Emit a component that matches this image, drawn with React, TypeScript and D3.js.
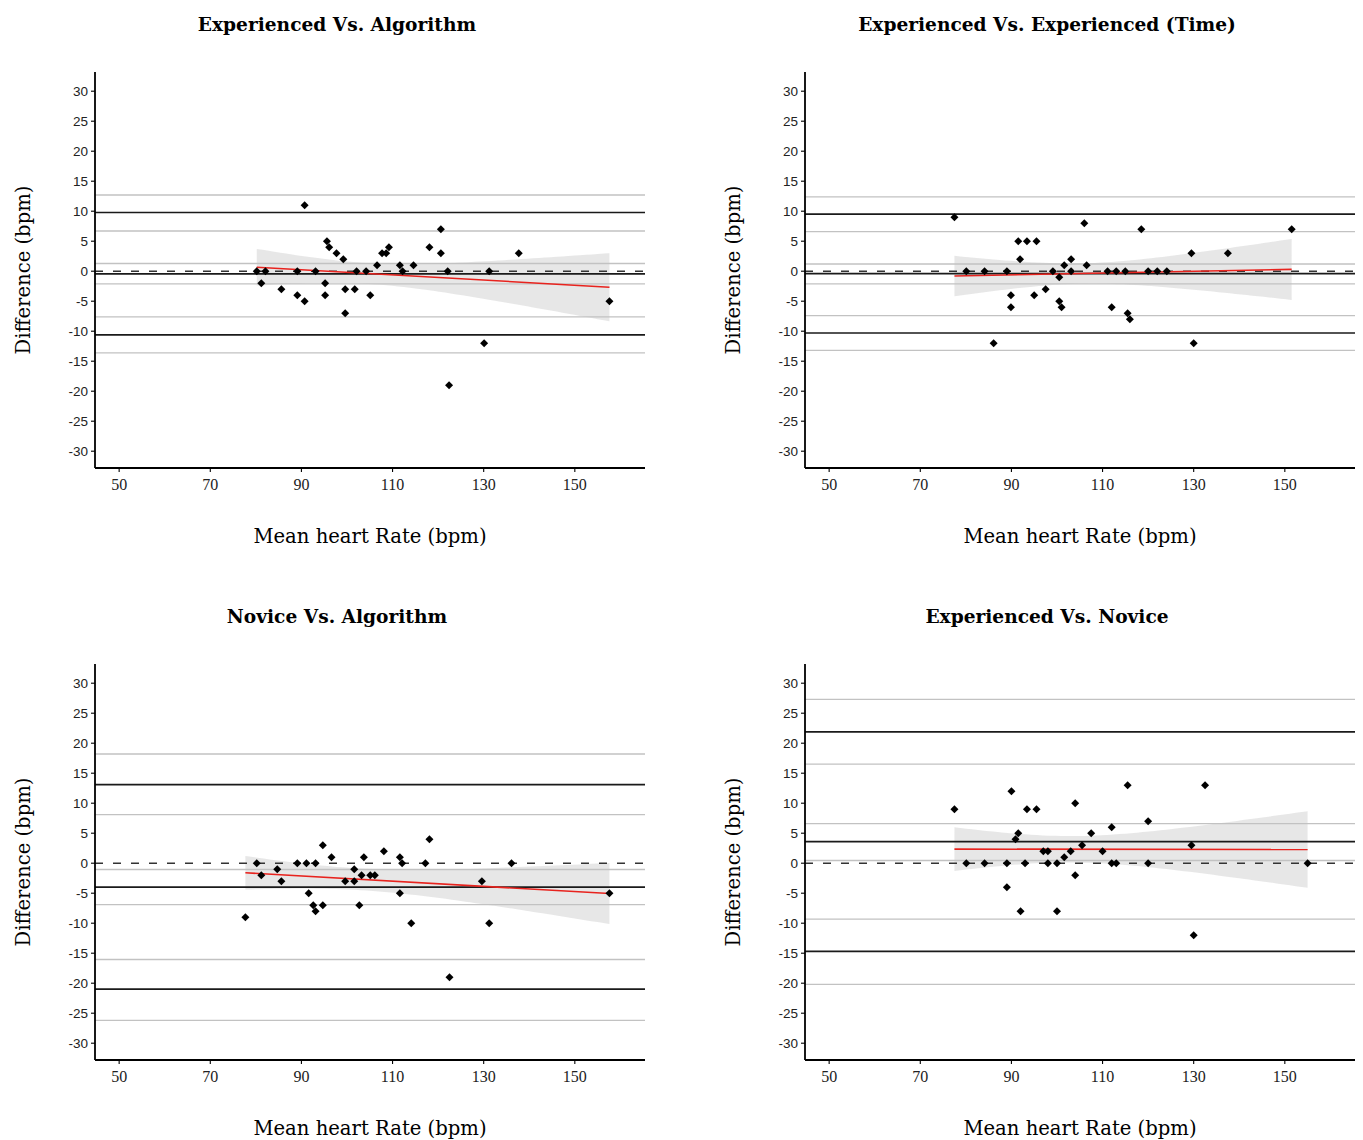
import * as d3 from "d3";
import { useEffect } from "react";

// ---- data ----
const panelTitles = [
  "Experienced Vs. Algorithm",
  "Experienced Vs. Experienced (Time)",
  "Novice Vs. Algorithm",
  "Experienced Vs. Novice",
];

const xTicks = [50, 70, 90, 110, 130, 150];
const yTicks = [-30, -25, -20, -15, -10, -5, 0, 5, 10, 15, 20, 25, 30];

// Experienced vs Algorithm
const eaMean = [80.2, 81.2, 82.1, 85.6, 89.1, 89.1, 90.7, 90.7, 93.1, 95.6, 96.1, 97.7, 99.2, 95.2, 95.2, 99.6, 99.6, 101.7, 102.1, 104.2, 105.1, 106.6, 107.7, 108.6, 109.2, 111.6, 112.2, 114.6, 118.1, 120.6, 120.6, 122.1, 122.4, 130.1, 131.2, 137.7, 157.6];
const eaDiff = [0, -2, 0, -3, 0, -4, -5, 11, 0, 5, 4, 3, 2, -2, -4, -3, -7, -3, 0, 0, -4, 1, 3, 3, 4, 1, 0, 1, 4, 7, 3, 0, -19, -12, 0, 3, -5];

// Experienced vs Experienced (time)
const eeMean = [77.5, 80.1, 84.1, 86.1, 89.0, 89.9, 89.9, 91.5, 91.9, 93.4, 95.5, 95.0, 97.5, 99.1, 100.5, 100.5, 101.0, 101.6, 103.1, 103.1, 106.0, 106.5, 111.1, 112.0, 113.0, 115.0, 115.5, 116.0, 118.5, 120.0, 122.0, 124.1, 129.5, 130.0, 137.5, 151.5];
const eeDiff = [9, 0, 0, -12, 0, -4, -6, 5, 2, 5, 5, -4, -3, 0, -1, -5, -6, 1, 2, 0, 8, 1, 0, -6, 0, 0, -7, -8, 7, 0, 0, 0, 3, -12, 3, 7];

// Novice vs Algorithm
const naMean = [77.7, 80.2, 81.2, 84.7, 85.6, 89.1, 91.1, 91.6, 92.6, 93.1, 93.1, 94.7, 94.7, 96.6, 99.6, 101.6, 101.6, 102.7, 103.2, 103.7, 105.1, 106.1, 108.1, 111.6, 112.1, 111.6, 114.1, 117.2, 118.1, 122.5, 129.6, 131.2, 136.1, 157.6];
const naDiff = [-9, 0, -2, -1, -3, 0, 0, -5, -7, -8, 0, 3, -7, 1, -3, -1, -3, -7, -2, 1, -2, -2, 2, 1, 0, -5, -10, 0, 4, -19, -3, -10, 0, -5];

// Experienced vs Novice
const enMean = [77.5, 80.1, 84.1, 89.0, 89.0, 90.0, 90.9, 91.5, 92.0, 93.0, 93.4, 95.5, 97.0, 98.0, 98.0, 100.0, 100.0, 101.6, 103.0, 104.0, 104.0, 105.5, 107.5, 110.0, 112.0, 112.0, 113.0, 115.5, 120.0, 120.0, 129.5, 130.0, 132.5, 155.0];
const enDiff = [9, 0, 0, 0, -4, 12, 4, 5, -8, 0, 9, 9, 2, 2, 0, 0, -8, 1, 2, 10, -2, 3, 5, 2, 6, 0, 0, 13, 7, 0, 3, -12, 13, 0];

// Bland-Altman lines, per panel
const bias = [-0.45, -0.4, -4.0, 3.6];
const biasCI = [[-2.1, 1.28], [-2.1, 1.2], [-6.9, -1.05], [0.45, 6.6]];
const upperLoA = [9.78, 9.5, 13.1, 21.9];
const upperCI = [[6.7, 12.7], [6.6, 12.4], [8.1, 18.2], [16.5, 27.3]];
const lowerLoA = [-10.6, -10.3, -21.0, -14.7];
const lowerCI = [[-13.6, -7.6], [-13.2, -7.4], [-26.2, -16.05], [-20.2, -9.33]];

// linear fit: x range, fitted y at ends, CI half width [start, narrowest, end]
const fitX = [[80.2, 157.6], [77.5, 151.5], [77.7, 157.6], [77.5, 155.0]];
const fitY = [[0.67, -2.67], [-0.8, 0.3], [-1.6, -5.05], [2.35, 2.28]];
const fitHalf = [[3.05, 1.75, 5.68], [3.36, 1.7, 5.08], [2.8, 1.8, 5.1], [3.64, 2.2, 6.39]];

const means = [eaMean, eeMean, naMean, enMean];
const diffs = [eaDiff, eeDiff, naDiff, enDiff];

// ---- layout ----
const left = 95, right = 645, top = 72, bottom = 468;
const offsets = [[0, 0], [710, 0], [0, 592], [710, 592]];

const serif = "'DejaVu Serif', serif";

const Panel = ({ i }) => {
  const x = d3.scaleLinear().domain([44.7, 165.4]).range([left, right]);
  const y = d3.scaleLinear().domain([-32.8, 33.2]).range([bottom, top]);

  const [x0, x1] = fitX[i];
  const [y0, y1] = fitY[i];
  const [h0, hm, h1] = fitHalf[i];
  const r = Math.sqrt((h0 * h0 - hm * hm) / (h1 * h1 - hm * hm));
  const xc = (x0 + r * x1) / (1 + r);
  const k = (h0 * h0 - hm * hm) / ((xc - x0) * (xc - x0));
  const fit = (v) => y0 + ((y1 - y0) * (v - x0)) / (x1 - x0);
  const half = (v) => Math.sqrt(hm * hm + k * (v - xc) * (v - xc));
  const xs = d3.range(0, 61).map((j) => x0 + ((x1 - x0) * j) / 60);

  const band = d3.area()
    .x((v) => x(v))
    .y0((v) => y(fit(v) - half(v)))
    .y1((v) => y(fit(v) + half(v)))(xs);

  const grayLevels = [...biasCI[i], ...upperCI[i], ...lowerCI[i]];
  const darkLevels = [bias[i], upperLoA[i], lowerLoA[i]];
  const diamond = d3.symbol().type(d3.symbolSquare).size(32)();

  const [ox, oy] = offsets[i];
  return (
    <g transform={`translate(${ox},${oy})`}>
      <text x={337} y={31} textAnchor="middle" fontFamily={serif} fontWeight="bold" fontSize={18.6}>
        {panelTitles[i]}
      </text>

      <path d={band} fill="#d4d4d4" fillOpacity={0.55} />

      {grayLevels.map((v, j) => (
        <line key={"g" + j} x1={left} x2={right} y1={y(v)} y2={y(v)} stroke="#c2c2c2" strokeWidth={1.3} />
      ))}
      <line x1={left} x2={right} y1={y(0)} y2={y(0)} stroke="#333" strokeWidth={1.6} strokeDasharray="8 10" />
      {darkLevels.map((v, j) => (
        <line key={"d" + j} x1={left} x2={right} y1={y(v)} y2={y(v)} stroke="#1a1a1a" strokeWidth={1.7} />
      ))}

      <line x1={x(x0)} x2={x(x1)} y1={y(fit(x0))} y2={y(fit(x1))} stroke="#e8231e" strokeWidth={1.6} />

      {means[i].map((m, j) => (
        <path key={j} d={diamond} transform={`translate(${x(m)},${y(diffs[i][j])}) rotate(45)`} fill="#000" />
      ))}

      {/* axes */}
      <line x1={left} x2={left} y1={top} y2={bottom} stroke="#000" strokeWidth={1.8} />
      <line x1={left} x2={right} y1={bottom} y2={bottom} stroke="#000" strokeWidth={1.8} />
      {yTicks.map((t) => (
        <g key={t} transform={`translate(0,${y(t)})`}>
          <line x1={left - 4} x2={left} stroke="#000" strokeWidth={1.1} />
          <text x={left - 7} dy="0.35em" textAnchor="end" fontFamily="'Liberation Sans', sans-serif" fontSize={13.5} fill="#222">
            {t}
          </text>
        </g>
      ))}
      {xTicks.map((t) => (
        <g key={t} transform={`translate(${x(t)},0)`}>
          <line y1={bottom} y2={bottom + 4} stroke="#000" strokeWidth={1.1} />
          <text y={490} textAnchor="middle" fontFamily="'Liberation Serif', serif" fontSize={16} fill="#222">
            {t}
          </text>
        </g>
      ))}

      <text x={(left + right) / 2} y={543} textAnchor="middle" fontFamily={serif} fontSize={19.6}>
        Mean heart Rate (bpm)
      </text>
      <text transform={`translate(30,${(top + bottom) / 2}) rotate(-90)`} textAnchor="middle" fontFamily={serif} fontSize={19.6}>
        Difference (bpm)
      </text>
    </g>
  );
};

export default function App() {
  useEffect(() => {
    document.body.style.margin = "0";
  }, []);
  return (
    <svg width={1363} height={1140} style={{ display: "block", background: "#fff" }}>
      {[0, 1, 2, 3].map((i) => (
        <Panel key={i} i={i} />
      ))}
    </svg>
  );
}
